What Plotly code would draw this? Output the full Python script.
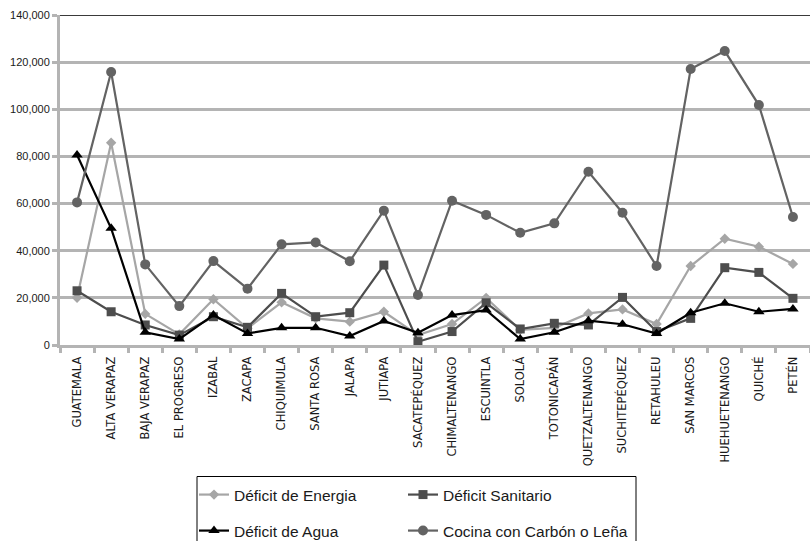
import plotly.graph_objects as go

departamentos = [
    "GUATEMALA", "ALTA VERAPAZ", "BAJA VERAPAZ", "EL PROGRESO", "IZABAL",
    "ZACAPA", "CHIQUIMULA", "SANTA ROSA", "JALAPA", "JUTIAPA",
    "SACATEPÉQUEZ", "CHIMALTENANGO", "ESCUINTLA", "SOLOLÁ", "TOTONICAPÁN",
    "QUETZALTENANGO", "SUCHITEPÉQUEZ", "RETAHULEU", "SAN MARCOS",
    "HUEHUETENANGO", "QUICHÉ", "PETÉN",
]

deficit_energia = [
    20000, 85800, 13200, 4500, 19400, 7100, 18100, 11300, 9900, 14100,
    4200, 8900, 20000, 6400, 7300, 13400, 15100, 8900, 33500, 45100,
    41700, 34400,
]
deficit_sanitario = [
    23000, 14100, 8500, 4200, 12000, 7500, 21900, 12000, 13700, 33900,
    1400, 5700, 17900, 6800, 9200, 8500, 20200, 5700, 11300, 32800,
    30800, 19800,
]
deficit_agua = [
    80600, 49500, 5400, 2500, 12700, 4900, 7300, 7300, 3800, 10200,
    5200, 12700, 14800, 2500, 5400, 10300, 8800, 4900, 13700, 17700,
    14100, 15300,
]
cocina_lena = [
    60500, 115800, 34200, 16500, 35600, 23900, 42700, 43500, 35500, 57000,
    21200, 61200, 55200, 47600, 51600, 73500, 56100, 33500, 117100, 124700,
    101800, 54300,
]

# (name, values, colour, marker, size, legend id)
series = [
    ("Déficit de Energia", deficit_energia, "#a6a6a6", "diamond", 8, "legend"),
    ("Déficit Sanitario", deficit_sanitario, "#4d4d4d", "square", 9, "legend2"),
    ("Déficit de Agua", deficit_agua, "#000000", "triangle-up", 10, "legend3"),
    ("Cocina con Carbón o Leña", cocina_lena, "#636363", "circle", 10, "legend4"),
]

fig = go.Figure()
# draw order: energy under, then sanitation, water, firewood on top
for name, vals, color, symbol, size, lg in series:
    fig.add_trace(go.Scatter(
        x=departamentos, y=vals, name=name, mode="lines+markers",
        line=dict(color=color, width=2.2),
        marker=dict(symbol=symbol, size=size, color=color),
        legend=lg, showlegend=True,
    ))

grid_gray = "#b4b4b4"
legend_font = dict(size=15.5, color="#1a1a1a",
                   family="Liberation Sans, Arial, sans-serif")


def legend_box(x_px, y_px):
    # one legend entry placed at a pixel position below the plot
    return dict(
        x=(x_px - 60) / 750, y=(345 - y_px) / 330,
        xanchor="left", yanchor="top", font=legend_font,
        bgcolor="rgba(0,0,0,0)", visible=True,
    )


col1, col2 = 194, 403
row1, row2 = 478, 514

fig.update_layout(
    width=810, height=541, showlegend=True,
    margin=dict(l=60, r=0, t=15, b=196, autoexpand=False),
    plot_bgcolor="white", paper_bgcolor="white",
    font=dict(family="Liberation Sans, Arial, sans-serif", color="#1a1a1a"),
    xaxis=dict(
        type="category", tickangle=-90,
        tickfont=dict(size=11.5, family="DejaVu Sans, sans-serif"),
        showgrid=False, showline=True, linecolor=grid_gray, linewidth=3,
        ticks="outside", tickson="boundaries", ticklen=5, tickwidth=3,
        tickcolor=grid_gray, range=[-0.5, 21.5], ticklabelstandoff=4,
    ),
    yaxis=dict(
        range=[0, 140000], dtick=20000, tickformat=",",
        tickfont=dict(size=11), showgrid=True, gridcolor=grid_gray,
        gridwidth=3, showline=True, linecolor=grid_gray, linewidth=3,
        ticks="outside", ticklen=5, tickwidth=3, tickcolor=grid_gray,
        zeroline=False,
    ),
    legend=legend_box(col1, row1),
    legend2=legend_box(col2, row1),
    legend3=legend_box(col1, row2),
    legend4=legend_box(col2, row2),
    shapes=[
        # dark rule along the top of the plotting area
        dict(type="line", xref="paper", yref="y", x0=0, x1=1,
             y0=140000, y1=140000, line=dict(color="#3a3a3a", width=2)),
        # frame around the legend
        dict(type="rect", xref="paper", yref="paper",
             x0=(197 - 60) / 750, x1=(636 - 60) / 750,
             y0=(345 - 476.5) / 330, y1=(345 - 560) / 330,
             line=dict(color="#000000", width=1)),
    ],
)

fig.write_html("out.html")
